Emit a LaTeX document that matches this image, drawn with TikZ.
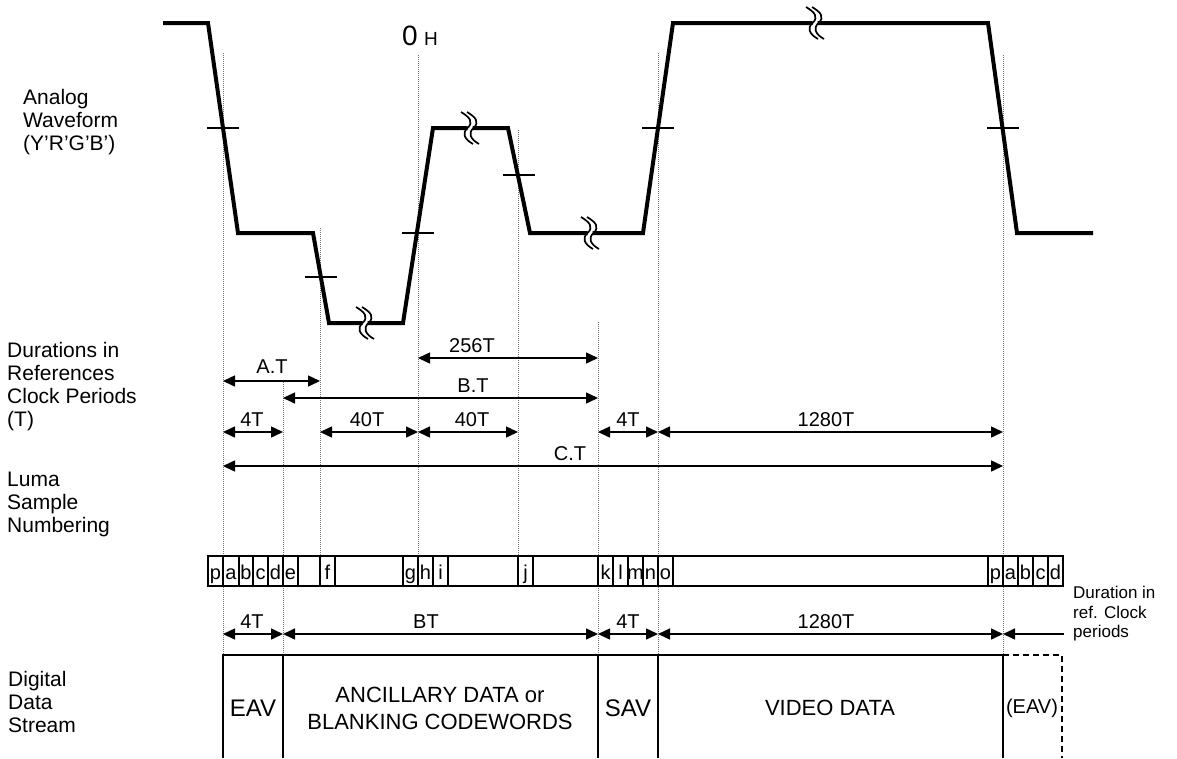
\documentclass[tikz,border=0pt]{standalone}
\usepackage{fontspec}
\setmainfont{Liberation Sans}
\usetikzlibrary{arrows.meta}
\begin{document}
\begin{tikzpicture}[x=1pt,y=-1pt,
  wave/.style={line width=4pt},
  guide/.style={line width=0.8pt, black!55, dash pattern=on 1pt off 1pt},
  tickmark/.style={line width=1.5pt},
  dimarrow/.style={line width=1.5pt, {Triangle[length=12pt,width=11pt]}-{Triangle[length=12pt,width=11pt]}},
  onearrow/.style={line width=1.5pt, -{Triangle[length=12pt,width=11pt]}},
  dimlab/.style={font=\fontsize{20}{24}\selectfont, inner sep=0pt, anchor=base},
  sidelab/.style={font=\fontsize{21}{23}\selectfont, align=left, anchor=west, inner sep=0pt},
  celllab/.style={font=\fontsize{20}{22}\selectfont, anchor=base, inner sep=0pt},
  cellline/.style={line width=1.2pt},
  framebox/.style={line width=1.5pt},
  brkstroke/.style={line width=1.7pt},
  brk/.pic={
    \draw[brkstroke] (-9,-16) .. controls (-0.5,-11) and (4,-6) .. (-2.5,0) .. controls (-8,5) and (-6,11) .. (3,16);
    \draw[brkstroke] (-3,-16) .. controls (5.5,-11) and (10,-6) .. (3.5,0) .. controls (-2,5) and (0,11) .. (9,16);
  }
]
\useasboundingbox (0,0) rectangle (1177,758);

% ---------- dotted guide lines ----------
\draw[guide] (223,53) -- (223,655);
\draw[guide] (283,382) -- (283,655);
\draw[guide] (320,228) -- (320,556);
\draw[guide] (418,55) -- (418,556);
\draw[guide] (518,130) -- (518,556);
\draw[guide] (598,322) -- (598,655);
\draw[guide] (658,53) -- (658,655);
\draw[guide] (1003,55) -- (1003,655);

% ---------- analog waveform ----------
\draw[wave] (163,23) -- (208,23) -- (238,233) -- (313,233) -- (329,323) -- (362.5,323);
\draw[wave] (367.5,323) -- (403,323) -- (433,128) -- (467.5,128);
\draw[wave] (472.5,128) -- (508,128) -- (530,233) -- (587.5,233);
\draw[wave] (592.5,233) -- (643,233) -- (673,23) -- (812.5,23);
\draw[wave] (817.5,23) -- (988,23) -- (1017,233) -- (1093,233);

\pic at (365,323) {brk};
\pic at (470,128) {brk};
\pic at (590,233) {brk};
\pic at (815,23) {brk};

\draw[tickmark] (207,128) -- (239,128);
\draw[tickmark] (305,277) -- (337,277);
\draw[tickmark] (402,233) -- (434,233);
\draw[tickmark] (503,175) -- (535,175);
\draw[tickmark] (642,128) -- (674,128);
\draw[tickmark] (987,128) -- (1019,128);

\node[font=\fontsize{28}{30}\selectfont, anchor=base, inner sep=0pt] (zero) at (410,45) {0};
\node[font=\fontsize{19}{22}\selectfont, anchor=base, inner sep=0pt] (hh) at (431,45) {H};

% ---------- side labels ----------
\node[sidelab] (lanalog) at (23,122) {Analog\\Waveform\\(Y’R’G’B’)};
\node[sidelab] (ldur) at (7,387) {Durations in\\References\\Clock Periods\\(T)};
\node[sidelab] (lluma) at (7,504) {Luma\\Sample\\Numbering};
\node[sidelab] (ldig) at (8,702) {Digital\\Data\\Stream};

% ---------- durations ----------
\coordinate (a1) at (418,358); \coordinate (a2) at (598,358);
\draw[dimarrow] (a1) -- (a2);
\node[dimlab] (l256) at (472,352) {256T};

\coordinate (b1) at (223,381); \coordinate (b2) at (320,381);
\draw[dimarrow] (b1) -- (b2);
\node[dimlab] (lat) at (272,373) {A.T};

\coordinate (c1) at (283,398); \coordinate (c2) at (598,398);
\draw[dimarrow] (c1) -- (c2);
\node[dimlab] (lbt) at (473,392) {B.T};

\coordinate (d1) at (223,432); \coordinate (d2) at (283,432);
\coordinate (d3) at (320,432); \coordinate (d4) at (418,432);
\coordinate (d5) at (518,432); \coordinate (d6) at (598,432);
\coordinate (d7) at (658,432); \coordinate (d8) at (1003,432);
\draw[dimarrow] (d1) -- (d2);
\draw[dimarrow] (d3) -- (d4);
\draw[dimarrow] (d4) -- (d5);
\draw[dimarrow] (d6) -- (d7);
\draw[dimarrow] (d7) -- (d8);
\node[dimlab] (l4a) at (252,426) {4T};
\node[dimlab] (l40a) at (367,426) {40T};
\node[dimlab] (l40b) at (472,426) {40T};
\node[dimlab] (l4b) at (628,426) {4T};
\node[dimlab] (l1280a) at (826,426) {1280T};

\coordinate (e1) at (223,466); \coordinate (e2) at (1003,466);
\draw[dimarrow] (e1) -- (e2);
\node[dimlab] (lct) at (570,460) {C.T};

% ---------- luma sample numbering ----------
\draw[cellline] (208,556) rectangle (1063,586);
\foreach \x in {223,239,253,268,283,298,320,335,403,418,433,448,518,533,598,613,628,643,658,673,988,1003,1018,1033,1048}
  \draw[cellline] (\x,556) -- (\x,586);
\foreach \x/\t in {215.5/p,231/a,246/b,260.5/c,275.5/d,290.5/e,327.5/f,410.5/g,425.5/h,440.5/i,525.5/j,605.5/k,620.5/l,635.5/m,650.5/n,665.5/o,995.5/p,1010.5/a,1025.5/b,1040.5/c,1055.5/d}
  \node[celllab] at (\x,579) {\t};

% ---------- durations in ref. clock periods ----------
\coordinate (f1) at (223,634); \coordinate (f2) at (283,634);
\coordinate (f3) at (598,634); \coordinate (f4) at (658,634);
\coordinate (f5) at (1003,634); \coordinate (f6) at (1064,634);
\draw[dimarrow] (f1) -- (f2);
\draw[dimarrow] (f2) -- (f3);
\draw[dimarrow] (f3) -- (f4);
\draw[dimarrow] (f4) -- (f5);
\draw[onearrow] (f6) -- (f5);
\node[dimlab] (l4c) at (252,628) {4T};
\node[dimlab] (lbt2) at (426,628) {BT};
\node[dimlab] (l4d) at (628,628) {4T};
\node[dimlab] (l1280b) at (826,628) {1280T};
\node[font=\fontsize{17}{19.5}\selectfont, align=left, anchor=west, inner sep=0pt] (ldurref) at (1073,614) {Duration in\\ref. Clock\\periods};

% ---------- digital data stream ----------
\draw[framebox] (223,758) -- (223,655) -- (1003,655) -- (1003,758);
\draw[framebox] (283,655) -- (283,758);
\draw[framebox] (598,655) -- (598,758);
\draw[framebox] (658,655) -- (658,758);
\draw[framebox, dash pattern=on 6pt off 4pt] (1003,655) -- (1062,655) -- (1062,758);

\node[font=\fontsize{24}{26}\selectfont, inner sep=0pt] (eav) at (253,708) {EAV};
\node[font=\fontsize{22}{27}\selectfont, align=center, inner sep=0pt] (anc) at (440,708) {ANCILLARY DATA or\\BLANKING CODEWORDS};
\node[font=\fontsize{24}{26}\selectfont, inner sep=0pt] (sav) at (628,708) {SAV};
\node[font=\fontsize{22}{26}\selectfont, inner sep=0pt] (vid) at (830,708) {VIDEO DATA};
\node[font=\fontsize{20}{24}\selectfont, inner sep=0pt] (eav2) at (1032,708) {(EAV)};
\end{tikzpicture}
\end{document}
